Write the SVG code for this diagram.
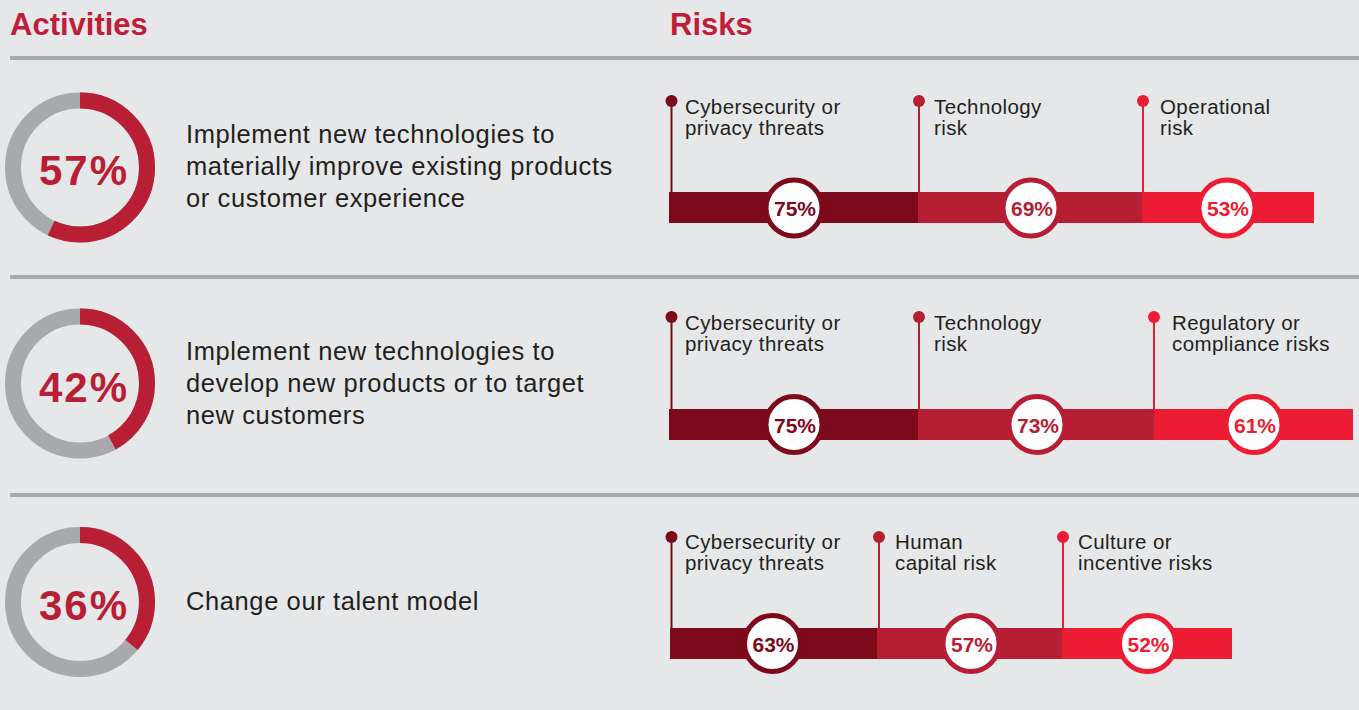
<svg xmlns="http://www.w3.org/2000/svg" width="1359" height="710" viewBox="0 0 1359 710">
<style>
.hdr{font-family:"Liberation Sans",Arial,sans-serif;font-weight:700;font-size:31px;fill:#be1e37}
.rule{stroke:#a7a9ac;stroke-width:4}
.track{fill:none;stroke:#a7a9ac;stroke-width:16}
.arc{fill:none;stroke:#b81f35;stroke-width:16}
.big{font-family:"Liberation Sans",Arial,sans-serif;font-weight:700;font-size:42px;fill:#b81f35;text-anchor:middle;letter-spacing:2px}
.act{font-family:"Liberation Sans",Arial,sans-serif;font-size:25.5px;fill:#231f20;letter-spacing:0.6px}
.lbl{font-family:"Liberation Sans",Arial,sans-serif;font-size:20.5px;fill:#231f20;letter-spacing:0.4px}
.pct{font-family:"Liberation Sans",Arial,sans-serif;font-weight:700;font-size:21px;text-anchor:middle}
.c1{fill:#7c0a1b}.c2{fill:#b61e34}.c3{fill:#ec1c34}
.s1{stroke:#7c0a1b}.s2{stroke:#b61e34}.s3{stroke:#ec1c34}
.pin{stroke-width:2;fill:none}
.ring{fill:#ffffff;stroke-width:5}
</style>
<rect x="0" y="0" width="1359" height="710" fill="#e6e7e8"/>
<text class="hdr" x="10" y="35">Activities</text>
<text class="hdr" x="670" y="35">Risks</text>
<line class="rule" x1="10" y1="58" x2="1359" y2="58"/>
<line class="rule" x1="10" y1="277" x2="1359" y2="277"/>
<line class="rule" x1="10" y1="495" x2="1359" y2="495"/>

<g id="activity1">
<circle class="track" cx="80" cy="167.5" r="67"/>
<circle class="arc" cx="80" cy="167.5" r="67" stroke-dasharray="239.95 500" transform="rotate(-90 80 167.5)"/>
<text class="big" x="84" y="185">57%</text>
<text class="act" x="186" y="143">Implement new technologies to</text>
<text class="act" x="186" y="175">materially improve existing products</text>
<text class="act" x="186" y="207">or customer experience</text>
</g>
<g id="activity2">
<circle class="track" cx="80" cy="383.5" r="67"/>
<circle class="arc" cx="80" cy="383.5" r="67" stroke-dasharray="176.8 500" transform="rotate(-90 80 383.5)"/>
<text class="big" x="84" y="401.5">42%</text>
<text class="act" x="186" y="360">Implement new technologies to</text>
<text class="act" x="186" y="392">develop new products or to target</text>
<text class="act" x="186" y="424">new customers</text>
</g>
<g id="activity3">
<circle class="track" cx="80" cy="602" r="67"/>
<circle class="arc" cx="80" cy="602" r="67" stroke-dasharray="151.5 500" transform="rotate(-90 80 602)"/>
<text class="big" x="84" y="620">36%</text>
<text class="act" x="186" y="610">Change our talent model</text>
</g>

<g id="risks1">
<rect class="c1" x="669" y="192" width="249" height="31"/>
<rect class="c2" x="918" y="192" width="224" height="31"/>
<rect class="c3" x="1142" y="192" width="172" height="31"/>
<line class="pin s1" x1="671.5" y1="101" x2="671.5" y2="192"/><circle class="c1" cx="671.5" cy="101" r="6"/>
<line class="pin s2" x1="919" y1="101" x2="919" y2="192"/><circle class="c2" cx="919" cy="101" r="6"/>
<line class="pin s3" x1="1143" y1="101" x2="1143" y2="192"/><circle class="c3" cx="1143" cy="101" r="6"/>
<text class="lbl" x="685" y="114">Cybersecurity or</text><text class="lbl" x="685" y="135">privacy threats</text>
<text class="lbl" x="934" y="114">Technology</text><text class="lbl" x="934" y="135">risk</text>
<text class="lbl" x="1160" y="114">Operational</text><text class="lbl" x="1160" y="135">risk</text>
<circle class="ring s1" cx="794" cy="208" r="28"/><text class="pct c1" x="795" y="216">75%</text>
<circle class="ring s2" cx="1031" cy="208" r="28"/><text class="pct c2" x="1032" y="216">69%</text>
<circle class="ring s3" cx="1227" cy="208" r="28"/><text class="pct c3" x="1228" y="216">53%</text>
</g>

<g id="risks2">
<rect class="c1" x="669" y="409" width="249" height="31"/>
<rect class="c2" x="918" y="409" width="236" height="31"/>
<rect class="c3" x="1154" y="409" width="199" height="31"/>
<line class="pin s1" x1="671.5" y1="317" x2="671.5" y2="409"/><circle class="c1" cx="671.5" cy="317" r="6"/>
<line class="pin s2" x1="919" y1="317" x2="919" y2="409"/><circle class="c2" cx="919" cy="317" r="6"/>
<line class="pin s3" x1="1154" y1="317" x2="1154" y2="409"/><circle class="c3" cx="1154" cy="317" r="6"/>
<text class="lbl" x="685" y="330">Cybersecurity or</text><text class="lbl" x="685" y="351">privacy threats</text>
<text class="lbl" x="934" y="330">Technology</text><text class="lbl" x="934" y="351">risk</text>
<text class="lbl" x="1172" y="330">Regulatory or</text><text class="lbl" x="1172" y="351">compliance risks</text>
<circle class="ring s1" cx="794" cy="424.5" r="28"/><text class="pct c1" x="795" y="432.5">75%</text>
<circle class="ring s2" cx="1037" cy="424.5" r="28"/><text class="pct c2" x="1038" y="432.5">73%</text>
<circle class="ring s3" cx="1254" cy="424.5" r="28"/><text class="pct c3" x="1255" y="432.5">61%</text>
</g>

<g id="risks3">
<rect class="c1" x="670" y="628" width="207" height="31"/>
<rect class="c2" x="877" y="628" width="185" height="31"/>
<rect class="c3" x="1062" y="628" width="170" height="31"/>
<line class="pin s1" x1="671.5" y1="537" x2="671.5" y2="628"/><circle class="c1" cx="671.5" cy="537" r="6"/>
<line class="pin s2" x1="879" y1="537" x2="879" y2="628"/><circle class="c2" cx="879" cy="537" r="6"/>
<line class="pin s3" x1="1063" y1="537" x2="1063" y2="628"/><circle class="c3" cx="1063" cy="537" r="6"/>
<text class="lbl" x="685" y="549">Cybersecurity or</text><text class="lbl" x="685" y="570">privacy threats</text>
<text class="lbl" x="895" y="549">Human</text><text class="lbl" x="895" y="570">capital risk</text>
<text class="lbl" x="1078" y="549">Culture or</text><text class="lbl" x="1078" y="570">incentive risks</text>
<circle class="ring s1" cx="772.5" cy="643.5" r="28"/><text class="pct c1" x="773.5" y="651.5">63%</text>
<circle class="ring s2" cx="971" cy="643.5" r="28"/><text class="pct c2" x="972" y="651.5">57%</text>
<circle class="ring s3" cx="1147.5" cy="643.5" r="28"/><text class="pct c3" x="1148.5" y="651.5">52%</text>
</g>
</svg>
